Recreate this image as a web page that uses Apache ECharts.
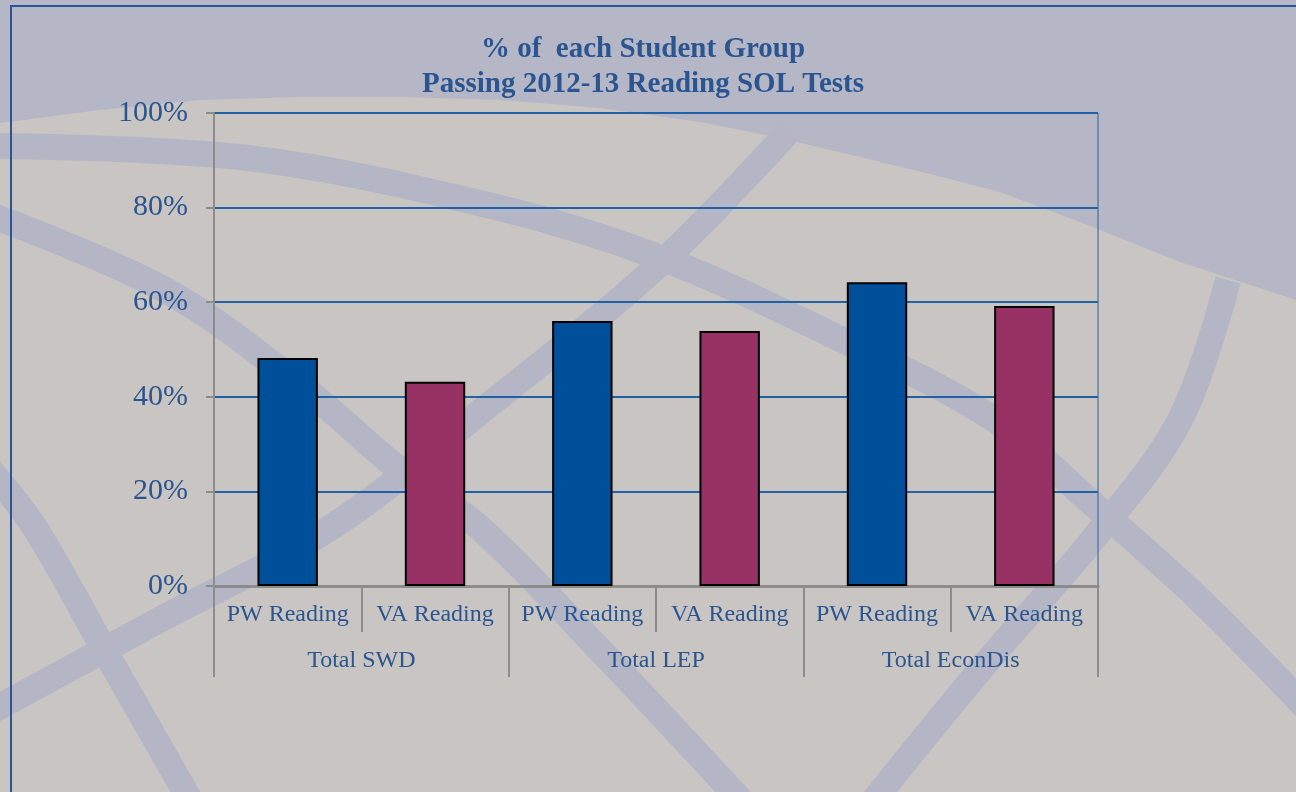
<!DOCTYPE html>
<html>
<head>
<meta charset="utf-8">
<script src="https://cdn.jsdelivr.net/npm/echarts@6/dist/echarts.min.js"></script>
<style>
  html, body { margin: 0; padding: 0; background: #c9c5c2; }
  #chart { width: 1296px; height: 792px; }
</style>
</head>
<body>
<div id="chart"></div>
<script>
// chart data
const subLabels = ['PW Reading', 'VA Reading', 'PW Reading', 'VA Reading', 'PW Reading', 'VA Reading']
const groups = ['Total SWD', 'Total LEP', 'Total EconDis']
const passRates = [48.2, 43.2, 56.0, 53.9, 64.2, 59.2]
const yTicks = [0, 20, 40, 60, 80, 100]

const textBlue = '#2b5590'
const serif = '"Liberation Serif", "DejaVu Serif", serif'
const bandColor = '#b4b6c6'

// bar colour depends on which test it is
const barColor = (name) => name.indexOf('PW') === 0 ? '#004f9b' : '#993264'

// decorative background swooshes
const band = (points) => ({
  type: 'polyline',
  z: -10,
  silent: true,
  shape: { points: points, smooth: 0.35 },
  style: { fill: null, stroke: bandColor, lineWidth: 26 }
})

const chart = echarts.init(document.getElementById('chart'))

chart.setOption({
  backgroundColor: '#c9c5c2',
  animation: false,
  graphic: [
    {
      type: 'polygon',
      z: -11,
      silent: true,
      shape: {
        points: [[0, 0], [1296, 0], [1296, 300], [1180, 262], [1080, 222], [1000, 192], [930, 174],
          [864, 158], [780, 138], [700, 122], [600, 108], [500, 100], [400, 97], [300, 97],
          [200, 100], [100, 110], [0, 123]]
      },
      style: { fill: '#b5b7c6' }
    },
    band([[-10, 146], [248, 158], [496, 207], [661, 258], [826, 332], [992, 418], [1094, 505], [1200, 600], [1310, 712]]),
    band([[-10, 215], [165, 290], [300, 385], [400, 470], [480, 528], [600, 650], [745, 805]]),
    band([[790, 130], [661, 263], [479, 413], [330, 528], [150, 625], [-10, 712]]),
    band([[-10, 470], [35, 528], [110, 660], [190, 800]]),
    band([[1228, 280], [1180, 420], [1094, 538], [980, 670], [870, 805]]),
    {
      type: 'rect',
      z: 50,
      silent: true,
      shape: { x: 11, y: 6, width: 1300, height: 800 },
      style: { fill: null, stroke: '#2b5592', lineWidth: 2 }
    }
  ],
  title: {
    text: '% of  each Student Group\nPassing 2012-13 Reading SOL Tests',
    left: 638,
    top: 27,
    textAlign: 'center',
    textStyle: {
      fontFamily: serif,
      fontSize: 29,
      fontWeight: 'bold',
      color: textBlue,
      lineHeight: 35
    }
  },
  grid: {
    left: 214,
    top: 113,
    width: 884,
    height: 473,
    show: true,
    backgroundColor: 'transparent',
    borderColor: '#2f5f9e',
    borderWidth: 1
  },
  xAxis: [
    {
      type: 'category',
      data: subLabels,
      position: 'bottom',
      axisLine: { lineStyle: { color: '#8c8c8c', width: 3 } },
      axisTick: { show: true, interval: 0, length: 46, lineStyle: { color: '#8c8c8c', width: 2 } },
      axisLabel: { interval: 0, margin: 17, fontFamily: serif, fontSize: 24, color: textBlue }
    },
    {
      type: 'category',
      data: groups,
      position: 'bottom',
      axisLine: { lineStyle: { color: '#8c8c8c', width: 3 } },
      axisTick: { show: true, interval: 0, length: 91, lineStyle: { color: '#8c8c8c', width: 2 } },
      axisLabel: { interval: 0, margin: 63, fontFamily: serif, fontSize: 24, color: textBlue }
    }
  ],
  yAxis: {
    type: 'value',
    min: yTicks[0],
    max: yTicks[yTicks.length - 1],
    interval: yTicks[1] - yTicks[0],
    axisLine: { show: true, lineStyle: { color: '#8c8c8c', width: 2 } },
    axisTick: { show: true, length: 8, lineStyle: { color: '#8c8c8c', width: 2 } },
    axisLabel: {
      margin: 26,
      formatter: '{value}%',
      fontFamily: serif,
      fontSize: 30,
      color: textBlue
    },
    splitLine: { lineStyle: { color: '#2261a6', width: 2 } }
  },
  series: [
    {
      type: 'bar',
      xAxisIndex: 0,
      barWidth: '41%',
      data: passRates.map((v, i) => ({
        value: v,
        itemStyle: { color: barColor(subLabels[i]) }
      })),
      itemStyle: { borderColor: '#000', borderWidth: 2 }
    }
  ]
})
</script>
</body>
</html>
